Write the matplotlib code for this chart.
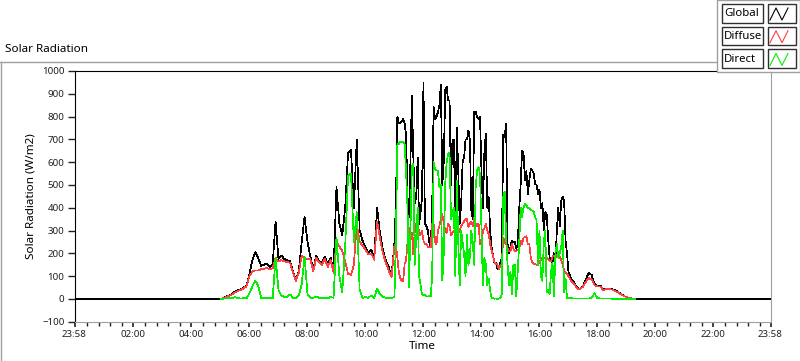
import numpy as np
import matplotlib.pyplot as plt
from matplotlib.lines import Line2D
from matplotlib.patches import Rectangle

plt.rcParams['font.family'] = ['Noto Sans', 'DejaVu Sans']

# W/m2
# morning: every 6 min from 05:00, midday: every 3 min from 11:00, evening: every 6 min from 17:00
global_am = [0, 3, 10, 15, 21, 32, 38, 42, 50, 60,
             110, 170, 205, 180, 145, 150, 155, 140, 150, 340,
             175, 190, 175, 170, 165, 120, 80, 120, 250, 360,
             250, 185, 130, 190, 165, 160, 185, 150, 180, 120,
             490, 330, 280, 400, 640, 655, 400, 700, 300, 255,
             225, 200, 215, 180, 400, 290, 215, 170, 140, 100]
global_mid = [250, 417, 800, 769, 770, 780, 790, 770, 720, 450,
              360, 600, 890, 623, 420, 450, 620, 330, 380, 446,
              950, 329, 320, 300, 250, 226, 400, 842, 790, 800,
              820, 850, 940, 500, 600, 915, 930, 871, 870, 500,
              700, 700, 290, 750, 560, 330, 420, 600, 620, 700,
              700, 739, 700, 390, 350, 820, 820, 800, 790, 800,
              560, 400, 640, 725, 400, 446, 300, 226, 190, 155,
              160, 130, 135, 160, 180, 720, 710, 769, 240, 200,
              230, 255, 250, 250, 220, 240, 390, 500, 650, 640,
              520, 560, 460, 520, 570, 563, 550, 505, 500, 460,
              480, 400, 420, 300, 380, 370, 260, 180, 175, 160,
              200, 170, 300, 400, 320, 430, 450, 430, 255, 200]
global_pm = [120, 85, 72, 48, 43, 57, 85, 115, 105, 65,
             58, 58, 40, 45, 44, 42, 38, 32, 23, 14,
             8, 4, 2, 0]

diffuse_am = [0, 3, 9, 14, 19, 28, 35, 40, 46, 56,
              100, 120, 125, 125, 130, 132, 135, 130, 135, 180,
              165, 170, 165, 162, 158, 115, 78, 115, 190, 175,
              175, 175, 120, 180, 160, 150, 175, 140, 170, 115,
              250, 230, 210, 165, 110, 105, 150, 330, 250, 235,
              215, 195, 200, 172, 340, 265, 200, 160, 125, 95]
diffuse_mid = [235, 240, 180, 120, 90, 79, 80, 153, 170, 250,
               310, 290, 290, 197, 300, 330, 340, 285, 280, 300,
               255, 240, 240, 230, 225, 226, 330, 330, 250, 240,
               300, 320, 350, 373, 330, 300, 290, 330, 320, 280,
               290, 300, 275, 255, 290, 300, 320, 330, 340, 350,
               350, 314, 330, 340, 320, 358, 330, 320, 330, 240,
               240, 300, 310, 330, 300, 285, 240, 211, 185, 160,
               155, 150, 130, 145, 150, 270, 250, 240, 220, 210,
               210, 240, 220, 210, 210, 215, 215, 255, 240, 270,
               270, 275, 240, 240, 180, 160, 155, 153, 150, 150,
               160, 170, 180, 182, 180, 182, 175, 165, 165, 185,
               190, 182, 195, 182, 185, 170, 150, 123, 115, 109]
diffuse_pm = [100, 75, 65, 45, 42, 54, 75, 92, 85, 60,
              55, 55, 38, 44, 43, 41, 35, 30, 21, 13,
              8, 4, 2, 0]

direct_am = [0, 1, 2, 3, 4, 8, 3, 2, 3, 3,
             25, 55, 80, 60, 5, 3, 3, 4, 3, 180,
             40, 15, 8, 10, 20, 5, 3, 15, 65, 185,
             20, 5, 5, 10, 5, 3, 5, 3, 8, 5,
             270, 100, 30, 230, 540, 550, 250, 380, 40, 5,
             8, 5, 15, 5, 45, 20, 8, 5, 3, 3]
direct_mid = [10, 270, 680, 680, 690, 688, 690, 680, 560, 400,
              50, 300, 580, 593, 150, 270, 400, 100, 60, 20,
              15, 20, 10, 10, 15, 10, 100, 600, 570, 565,
              560, 490, 500, 80, 200, 505, 600, 637, 640, 350,
              380, 400, 100, 519, 250, 60, 300, 250, 200, 100,
              280, 150, 180, 300, 250, 150, 490, 563, 578, 549,
              300, 60, 180, 150, 60, 90, 35, 6, 3, 1,
              2, 0, 1, 5, 20, 446, 470, 270, 150, 60,
              120, 20, 150, 150, 10, 120, 240, 400, 360, 402,
              417, 410, 400, 400, 390, 387, 385, 358, 345, 150,
              300, 100, 80, 250, 300, 30, 40, 20, 120, 160,
              10, 200, 240, 180, 200, 230, 300, 30, 90, 3]
direct_pm = [3, 3, 2, 2, 2, 2, 2, 2, 5, 25,
             3, 2, 2, 2, 2, 1, 1, 1, 1, 1,
             0, 0, 0, 0]

day_start, day_end = -2, 1438          # 23:58 .. 23:58
major_ticks = [-2, 120, 240, 360, 480, 600, 720, 840, 960, 1080, 1200, 1320, 1438]
y_ticks = list(range(-100, 1001, 100))

t = np.concatenate([300 + 6 * np.arange(len(global_am)),
                    660 + 3 * np.arange(len(global_mid)),
                    1020 + 6 * np.arange(len(global_pm))])
glob = np.concatenate([global_am, global_mid, global_pm])
diff = np.concatenate([diffuse_am, diffuse_mid, diffuse_pm])
dirc = np.concatenate([direct_am, direct_mid, direct_pm])

# global is logged all day (zero at night), the others only in daylight
t_all = np.concatenate([[day_start], t, [day_end]])
g_all = np.concatenate([[0], glob, [0]])

W, H = 800, 361
fig = plt.figure(figsize=(W / 100, H / 100), dpi=100)
fx = lambda x: x / W
fy = lambda y: 1 - y / H

ax = fig.add_axes([fx(74.5), fy(321.7), 696 / W, 250.7 / H])
ax.plot(t_all, g_all, color='black', lw=0.5, zorder=2, antialiased=False)
ax.plot(t, diff, color='#ff4040', lw=0.5, zorder=3, antialiased=False)
ax.plot(t, dirc, color='#00f000', lw=0.5, zorder=4, antialiased=False)

ax.set_xlim(day_start, day_end)
ax.set_ylim(-100, 1000)
ax.set_xticks(major_ticks)
ax.set_xticklabels(['%02d:%02d' % divmod(m % 1440, 60) for m in major_ticks])
ax.set_xticks([m for m in range(24, 1438, 24) if m % 120], minor=True)
ax.set_yticks(y_ticks)
ax.tick_params(axis='x', which='major', length=3.6, width=1.2, pad=2.5, labelsize=7, colors='#202020')
ax.tick_params(axis='x', which='minor', length=2.6, width=1, colors='#202020')
ax.tick_params(axis='y', length=5, width=1, pad=2.2, labelsize=7, colors='#202020')
for s in ['left', 'top']:
    ax.spines[s].set_color('black')
for s in ['right', 'bottom']:
    ax.spines[s].set_color('#a0a0a0')
ax.set_xlabel('Time', fontsize=8.4, labelpad=1)
ax.set_ylabel('Solar Radiation (W/m2)', fontsize=8.4, labelpad=4)

# panel frame and title
fig.add_artist(Line2D([0, fx(717)], [fy(62), fy(62)], color='#a0a0a0', lw=1))
fig.add_artist(Line2D([fx(1), fx(1)], [fy(62), 0], color='#a0a0a0', lw=1))
fig.text(fx(5), fy(50), 'Solar Radiation', fontsize=8.4, va='center', ha='left')

# legend panel
fig.add_artist(Rectangle((fx(717), fy(72)), 1 - fx(717), 72 / H, facecolor='white',
                         edgecolor='#a0a0a0', lw=1, zorder=5))
names = ['Global', 'Diffuse', 'Direct']
colors = ['black', '#ff4040', '#00f000']
for i, (name, c) in enumerate(zip(names, colors)):
    top = 4 + i * 22.7
    fig.add_artist(Rectangle((fx(721.7), fy(top + 18.7)), 41.6 / W, 18.7 / H,
                             facecolor='white', edgecolor='#303030', lw=1, zorder=6))
    fig.add_artist(Rectangle((fx(767.7), fy(top + 18.7)), 28 / W, 18.7 / H,
                             facecolor='white', edgecolor='#303030', lw=1, zorder=6))
    fig.text(fx(724), fy(top + 9.6), name, fontsize=8.2, va='center', ha='left', zorder=7)
    zx = [770, 776, 782, 788]
    zy = [top + 16, top + 4, top + 16, top + 4]
    fig.add_artist(Line2D([fx(v) for v in zx], [fy(v) for v in zy], color=c, lw=0.8, zorder=7))

fig.savefig('out.png', dpi=100)
